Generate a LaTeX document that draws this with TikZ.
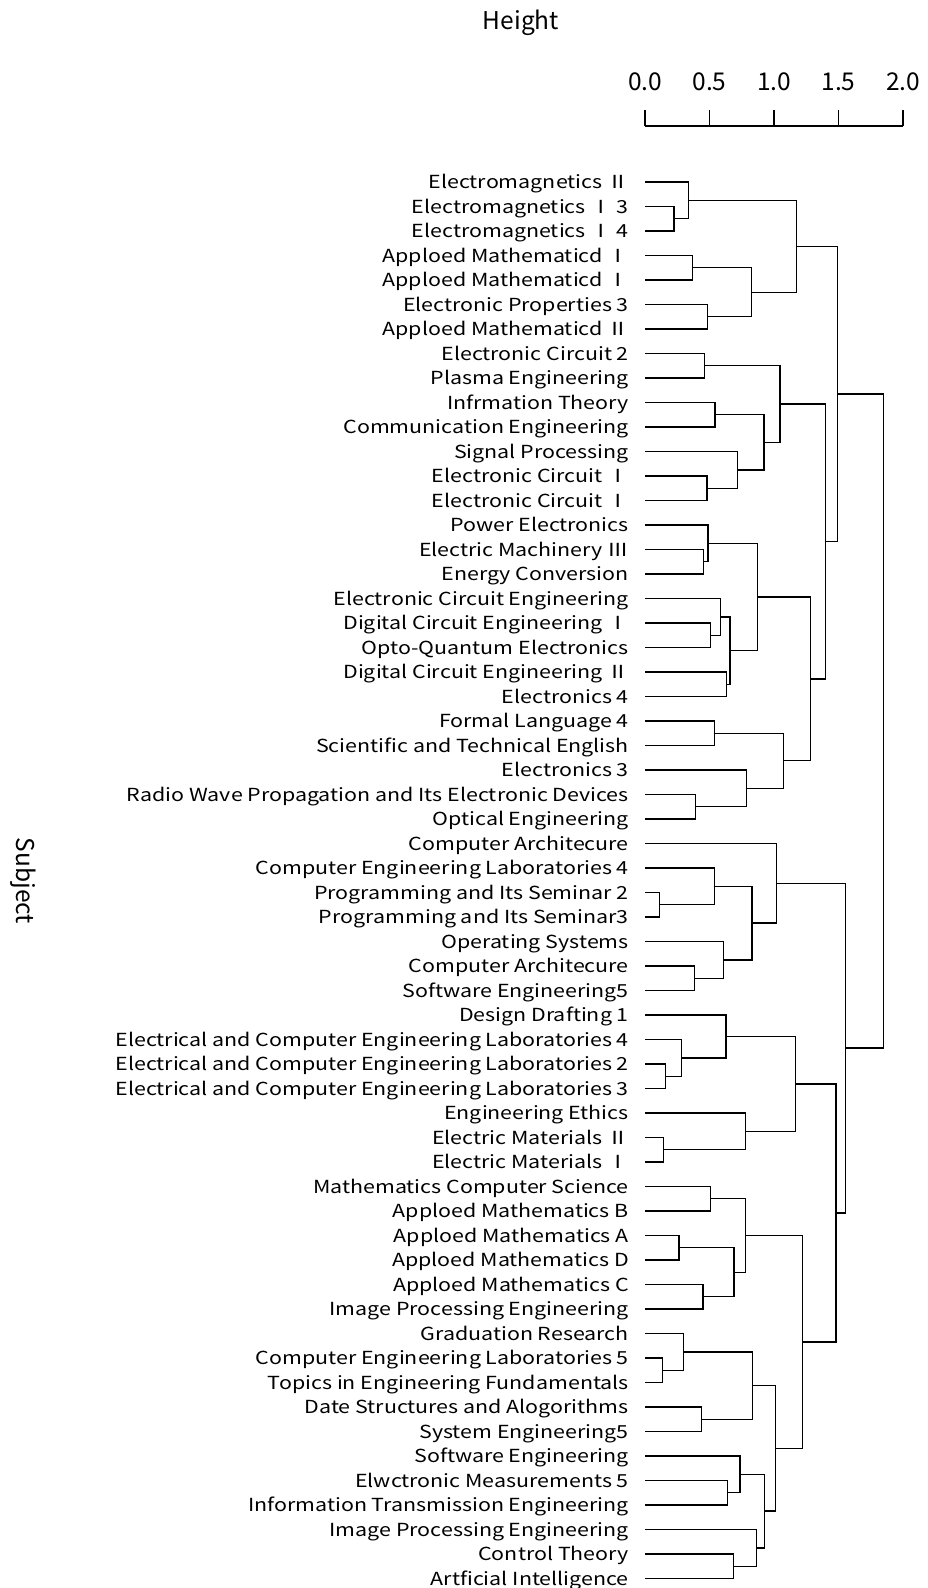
\documentclass[tikz,border=0pt]{standalone}
\usepackage{fontspec}
\setmainfont{Noto Sans CJK JP}
\newfontfamily\leaffont{Noto Sans CJK JP}[FakeStretch=1.19]
\usetikzlibrary{calc}

% one branch of the dendrogram: children #2 and #3 joined at height #4
\newcommand{\dmerge}[4]{%
  \path let \p1=(#2), \p2=(#3) in
    coordinate (#1) at ({645pt+129pt*#4},{0.5*\y1+0.5*\y2});
  \draw[branch] (#2) -| (#1) |- (#3);
}

\begin{document}
\begin{tikzpicture}[x=1pt,y=-1pt,
  branch/.style={line width=1.3pt,black},
  leaflabel/.style={anchor=east,inner sep=0pt,text height=13.2pt,text depth=0pt,
    font=\leaffont\fontsize{18}{18}\selectfont},
  ticklabel/.style={anchor=base,inner sep=0pt,font=\fontsize{24.5}{24.5}\selectfont},
  axistitle/.style={inner sep=0pt,font=\fontsize{24.5}{24.5}\selectfont}]
\useasboundingbox (0,0) rectangle (927,1588);

% titles
\node[axistitle,anchor=base] (htitle) at (521,29.3) {Height};
\node[axistitle,rotate=-90] (stitle) at (23,881) {Subject};

% height axis
\coordinate (a0) at (645,126);
\coordinate (a4) at (903,126);
\draw[branch] (a0) -- (a4);
\foreach \i/\v in {0/0.0,1/0.5,2/1.0,3/1.5,4/2.0}{
  \coordinate (t\i) at ({645+64.5*\i},126);
  \coordinate (u\i) at ({645+64.5*\i},110);
  \draw[branch] (t\i) -- (u\i);
  \node[ticklabel] (k\i) at ({645+64.5*\i},90) {\v};
}

% leaves
\foreach \i/\t in {
 1/Electromagnetics Ⅱ,
 2/Electromagnetics Ⅰ 3,
 3/Electromagnetics Ⅰ 4,
 4/Apploed Mathematicd Ⅰ,
 5/Apploed Mathematicd Ⅰ,
 6/Electronic Properties 3,
 7/Apploed Mathematicd Ⅱ,
 8/Electronic Circuit 2,
 9/Plasma Engineering,
 10/Infrmation Theory,
 11/Communication Engineering,
 12/Signal Processing,
 13/Electronic Circuit Ⅰ,
 14/Electronic Circuit Ⅰ,
 15/Power Electronics,
 16/Electric Machinery Ⅲ,
 17/Energy Conversion,
 18/Electronic Circuit Engineering,
 19/Digital Circuit Engineering Ⅰ,
 20/Opto-Quantum Electronics,
 21/Digital Circuit Engineering Ⅱ,
 22/Electronics 4,
 23/Formal Language 4,
 24/Scientific and Technical English,
 25/Electronics 3,
 26/Radio Wave Propagation and Its Electronic Devices,
 27/Optical Engineering,
 28/Computer Architecure,
 29/Computer Engineering Laboratories 4,
 30/Programming and Its Seminar 2,
 31/Programming and Its Seminar3,
 32/Operating Systems,
 33/Computer Architecure,
 34/Software Engineering5,
 35/Design Drafting 1,
 36/Electrical and Computer Engineering Laboratories 4,
 37/Electrical and Computer Engineering Laboratories 2,
 38/Electrical and Computer Engineering Laboratories 3,
 39/Engineering Ethics,
 40/Electric Materials Ⅱ,
 41/Electric Materials Ⅰ,
 42/Mathematics Computer Science,
 43/Apploed Mathematics B,
 44/Apploed Mathematics A,
 45/Apploed Mathematics D,
 46/Apploed Mathematics C,
 47/Image Processing Engineering,
 48/Graduation Research,
 49/Computer Engineering Laboratories 5,
 50/Topics in Engineering Fundamentals,
 51/Date Structures and Alogorithms,
 52/System Engineering5,
 53/Software Engineering,
 54/Elwctronic Measurements 5,
 55/Information Transmission Engineering,
 56/Image Processing Engineering,
 57/Control Theory,
 58/Artficial Intelligence}{
  \node[leaflabel] (n\i) at (629,{182+24.5*(\i-1)}) {\t};
  \coordinate (L\i) at (645,{182+24.5*(\i-1)});
}

% branches
\dmerge{m1}{L2}{L3}{0.225}
\dmerge{m2}{L1}{m1}{0.336}
\dmerge{m3}{L4}{L5}{0.367}
\dmerge{m4}{L6}{L7}{0.486}
\dmerge{m5}{m3}{m4}{0.824}
\dmerge{m6}{m2}{m5}{1.173}
\dmerge{m7}{L8}{L9}{0.460}
\dmerge{m8}{L10}{L11}{0.543}
\dmerge{m9}{L13}{L14}{0.481}
\dmerge{m10}{L12}{m9}{0.718}
\dmerge{m11}{m8}{m10}{0.922}
\dmerge{m12}{m7}{m11}{1.047}
\dmerge{m13}{L16}{L17}{0.452}
\dmerge{m14}{L15}{m13}{0.488}
\dmerge{m15}{L19}{L20}{0.509}
\dmerge{m16}{L18}{m15}{0.587}
\dmerge{m17}{L21}{L22}{0.633}
\dmerge{m18}{m16}{m17}{0.659}
\dmerge{m19}{m14}{m18}{0.873}
\dmerge{m20}{L23}{L24}{0.540}
\dmerge{m21}{L26}{L27}{0.393}
\dmerge{m22}{L25}{m21}{0.788}
\dmerge{m23}{m20}{m22}{1.072}
\dmerge{m24}{m19}{m23}{1.284}
\dmerge{m25}{m12}{m24}{1.401}
\dmerge{m26}{m6}{m25}{1.494}
\dmerge{m27}{L30}{L31}{0.111}
\dmerge{m28}{L29}{m27}{0.537}
\dmerge{m29}{L33}{L34}{0.382}
\dmerge{m30}{L32}{m29}{0.607}
\dmerge{m31}{m28}{m30}{0.829}
\dmerge{m32}{L28}{m31}{1.018}
\dmerge{m33}{L37}{L38}{0.160}
\dmerge{m34}{L36}{m33}{0.284}
\dmerge{m35}{L35}{m34}{0.628}
\dmerge{m36}{L40}{L41}{0.142}
\dmerge{m37}{L39}{m36}{0.778}
\dmerge{m38}{m35}{m37}{1.165}
\dmerge{m39}{L42}{L43}{0.506}
\dmerge{m40}{L44}{L45}{0.264}
\dmerge{m41}{L46}{L47}{0.450}
\dmerge{m42}{m40}{m41}{0.690}
\dmerge{m43}{m39}{m42}{0.778}
\dmerge{m44}{L49}{L50}{0.134}
\dmerge{m45}{L48}{m44}{0.297}
\dmerge{m46}{L51}{L52}{0.437}
\dmerge{m47}{m45}{m46}{0.832}
\dmerge{m48}{L54}{L55}{0.638}
\dmerge{m49}{L53}{m48}{0.736}
\dmerge{m50}{L57}{L58}{0.687}
\dmerge{m51}{L56}{m50}{0.863}
\dmerge{m52}{m49}{m51}{0.928}
\dmerge{m53}{m47}{m52}{1.013}
\dmerge{m54}{m43}{m53}{1.220}
\dmerge{m55}{m38}{m54}{1.481}
\dmerge{m56}{m32}{m55}{1.556}
\dmerge{m57}{m26}{m56}{1.848}
\end{tikzpicture}
\end{document}
